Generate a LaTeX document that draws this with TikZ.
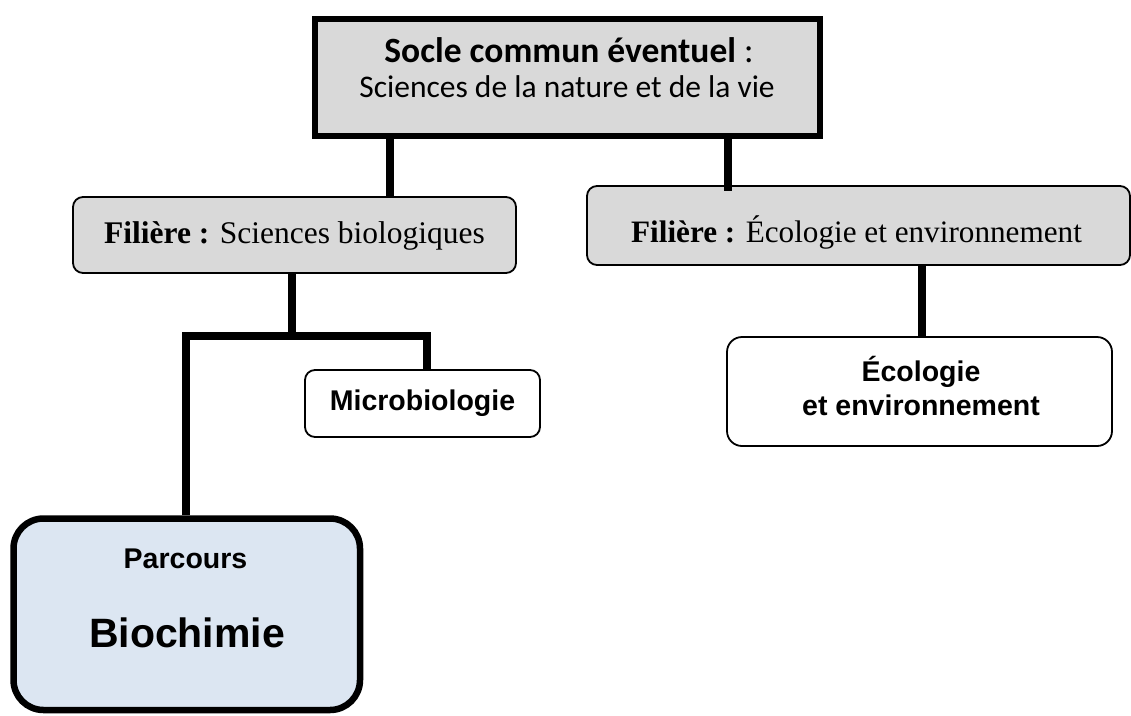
\documentclass[tikz,border=0pt]{standalone}
\usepackage{fontspec}
\setmainfont{Liberation Serif}
\newfontfamily\carlito{Carlito}
\newfontfamily\lsans{Liberation Sans}
\definecolor{boxgray}{HTML}{D9D9D9}
\definecolor{boxblue}{HTML}{DCE6F2}
\tikzset{
  topbox/.style={draw=black, line width=5.5pt, fill=boxgray, inner sep=0pt},
  filbox/.style={draw=black, line width=1.8pt, fill=boxgray, rounded corners=10pt, inner sep=0pt},
  subbox/.style={draw=black, line width=1.8pt, fill=white, rounded corners=10pt, inner sep=0pt},
  biobox/.style={draw=black, line width=6.5pt, fill=boxblue, rounded corners=30pt, inner sep=0pt},
  conn/.style={line width=8pt, line join=miter, line cap=butt, draw=black},
  txt/.style={anchor=base, inner sep=0pt},
}
\begin{document}
\begin{tikzpicture}[x=1pt, y=-1pt]
\useasboundingbox (0,0) rectangle (1131,715);
\clip (0,0) rectangle (1131,715);
% boxes
\node[topbox, minimum width=505pt, minimum height=117pt] (top) at (567.5,77.5) {};
\node[filbox, minimum width=443pt, minimum height=76pt] (fil1) at (294.5,235) {};
\node[filbox, minimum width=543pt, minimum height=79pt] (fil2) at (858.5,225.5) {};
\node[subbox, minimum width=235pt, minimum height=67pt] (micro) at (422.5,403.5) {};
\node[subbox, minimum width=385pt, minimum height=109pt, rounded corners=15pt] (eco) at (919.5,391.5) {};
\node[biobox, minimum width=346.5pt, minimum height=191.5pt] (bio) at (186.75,614.25) {};
% connectors
\coordinate (split) at (292,335.5);
\draw[conn] (top.south -| 390,0) -- (fil1.north -| 390,0);
\draw[conn] (top.south -| 728,0) -- ([yshift=-6pt]fil2.north -| 728,0);
\draw[conn] (fil1.south -| split) -- (split);
\draw[conn] (bio.north -| 186,0) -- (186,335.5) -- (426.5,335.5) -- ([yshift=-2pt]micro.north -| 426.5,0);
\draw[conn] (fil2.south -| 922,0) -- (eco.north -| 922,0);
% texts
\node[txt, font=\carlito\fontsize{35.5}{40}\selectfont] (t1) at (569,62) {\bfseries Socle commun éventuel\mdseries\ :};
\node[txt, font=\carlito\fontsize{31.5}{38}\selectfont] (t2) at (567,97) {Sciences de la nature et de la vie};
\node[txt, font=\fontsize{31.5}{38}\selectfont] (t3) at (294.5,243) {\textbf{Filière :} Sciences biologiques};
\node[txt, font=\fontsize{31.2}{38}\selectfont] (t4) at (856.5,242) {\textbf{Filière :} Écologie et environnement};
\node[txt, font=\lsans\bfseries\fontsize{28.5}{34}\selectfont] (t5) at (422.5,410) {Microbiologie};
\node[txt, font=\lsans\bfseries\fontsize{28.5}{34}\selectfont] (t6) at (921,381) {Écologie};
\node[txt, font=\lsans\bfseries\fontsize{28.5}{34}\selectfont] (t7) at (921,415) {et environnement};
\node[txt, font=\lsans\bfseries\fontsize{28.5}{34}\selectfont] (t8) at (185.5,568) {Parcours};
\node[txt, font=\lsans\bfseries\fontsize{41}{48}\selectfont] (t9) at (187,647) {Biochimie};
\end{tikzpicture}
\end{document}
